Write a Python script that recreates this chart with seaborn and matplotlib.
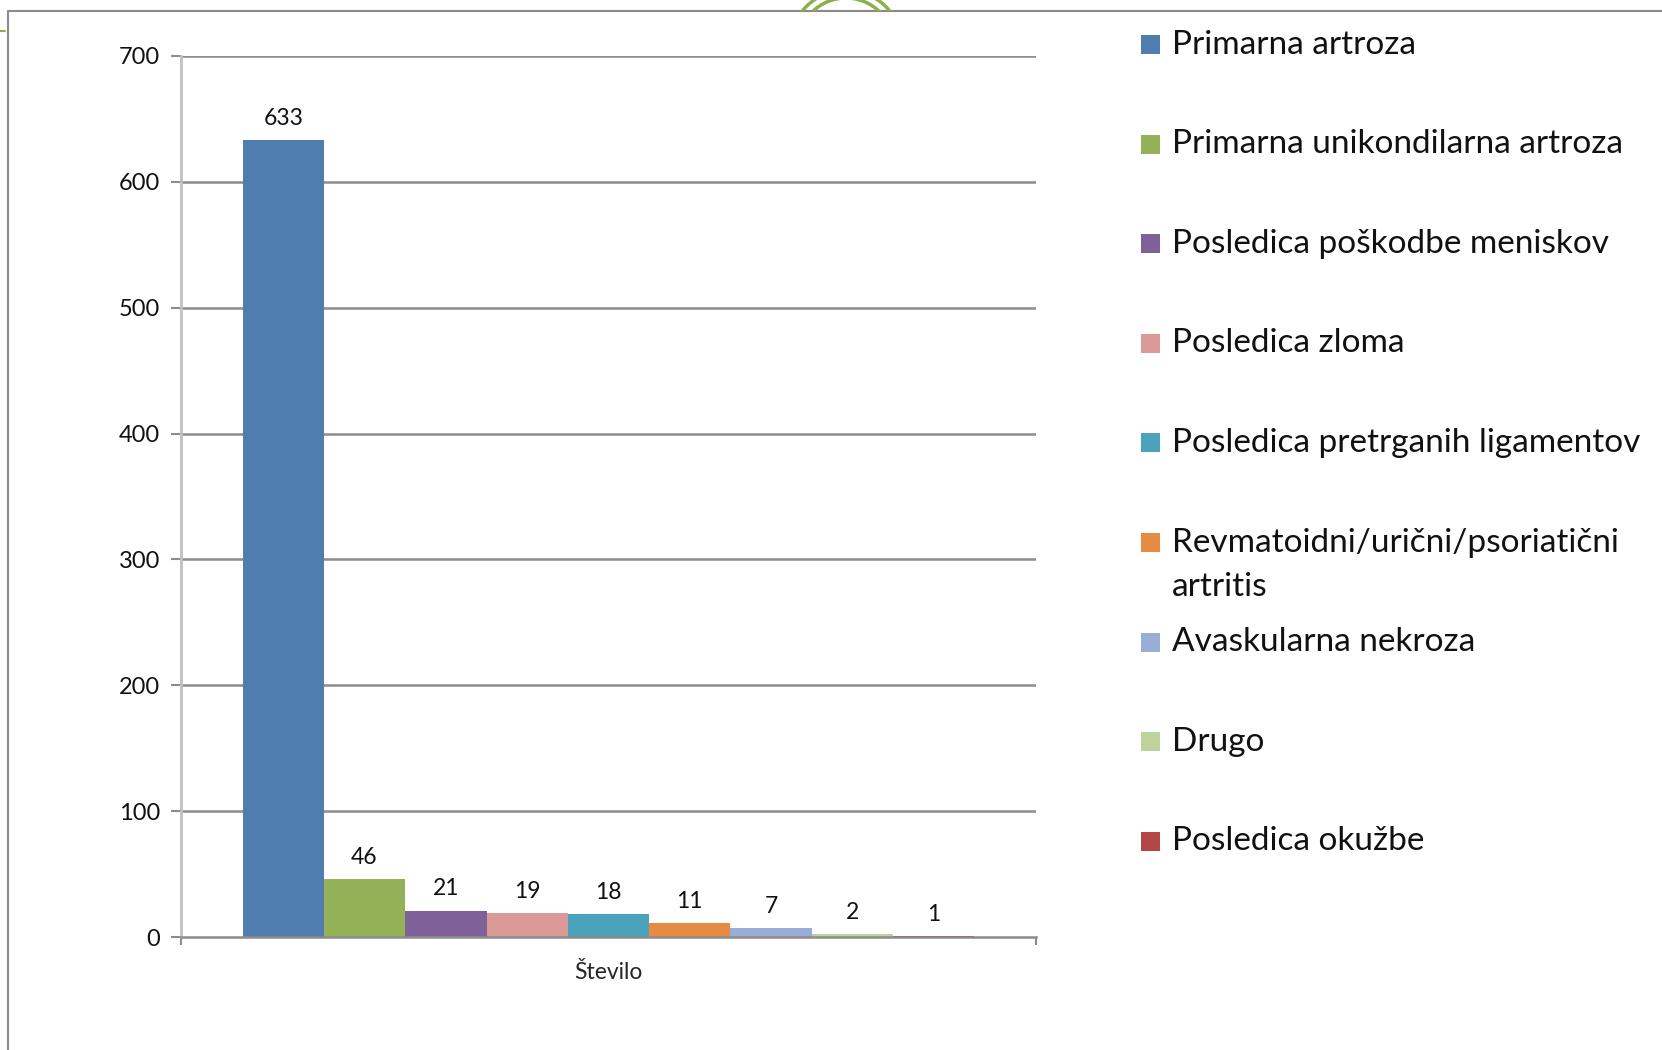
import matplotlib
matplotlib.use('Agg')
import matplotlib.pyplot as plt
import matplotlib.patches as mpatches
import seaborn as sns
import pandas as pd

# Data
categories = ['Primarna artroza',
              'Primarna unikondilarna artroza',
              'Posledica poškodbe meniskov',
              'Posledica zloma',
              'Posledica pretrganih ligamentov',
              'Revmatoidni/urični/psoriatični\nartritis',
              'Avaskularna nekroza',
              'Drugo',
              'Posledica okužbe']
values = [633, 46, 21, 19, 18, 11, 7, 2, 1]
colors = ['#4F7DB0', '#93B156', '#7E6199', '#DB9A98', '#4AA3BA',
          '#E88B42', '#98AED6', '#BED29C', '#B34747']
group_label = 'Število'
y_ticks = [0, 100, 200, 300, 400, 500, 600, 700]

sns.set_theme(style='white')
plt.rcParams['font.family'] = ['Lato', 'DejaVu Sans']

W, H = 1662, 1050
fig = plt.figure(figsize=(W / 100, H / 100), dpi=100)

# slide frame / decoration in pixel coordinates
bg = fig.add_axes([0, 0, 1, 1], zorder=-5)
bg.set_xlim(0, W)
bg.set_ylim(H, 0)
bg.axis('off')
bg.plot([7.5, W], [11, 11], color='#8a8a8a', lw=1.5)
bg.plot([7.5, 7.5], [11, H], color='#8a8a8a', lw=1.5)
bg.plot([0, 5], [31, 31], color='#8DAF4C', lw=1.5)

top = fig.add_axes([0, 1 - 10.5 / H, 1, 10.5 / H], zorder=-4)
top.set_xlim(0, W)
top.set_ylim(10.5, 0)
top.axis('off')
for r in (56, 48):
    top.add_patch(mpatches.Circle((846, 46), r, fill=False, ec='#8DAF4C', lw=2.5))

# main chart
ax = fig.add_axes([181 / W, 1 - 937 / H, (1036 - 181) / W, (937 - 56) / H])
df = pd.DataFrame({'group': group_label, 'category': categories, 'value': values})
sns.barplot(data=df, x='group', y='value', hue='category', hue_order=categories,
            palette=colors, saturation=1, width=0.856, linewidth=0,
            legend=False, ax=ax, zorder=3)

ax.set_xlim(-0.5, 0.5)
ax.set_ylim(0, 700)
ax.set_yticks(y_ticks)
for t in y_ticks[1:]:
    ax.axhline(t, color='#8c8c8c', lw=1.8, zorder=1)

for cont in ax.containers:
    ax.bar_label(cont, padding=8, fontsize=16.5, color='#111111')

ax.set_xlabel('')
ax.set_ylabel('')
ax.set_xticks([0])
ax.set_xticklabels([group_label], fontsize=16.5)
ax.tick_params(axis='x', length=0, pad=18)
ax.set_xticks([-0.5, 0.5], minor=True)
ax.tick_params(axis='x', which='minor', bottom=True, length=6, width=1.5, color='#8c8c8c')
ax.tick_params(axis='y', left=True, length=7, width=1.5, color='#8c8c8c',
               labelsize=17, pad=8, labelcolor='#111111')

for side in ('top', 'right'):
    ax.spines[side].set_visible(False)
ax.spines['left'].set_color('#c0c0c0')
ax.spines['left'].set_linewidth(2)
ax.spines['bottom'].set_color('#8c8c8c')
ax.spines['bottom'].set_linewidth(1.8)
ax.spines['bottom'].set_zorder(4)

# legend drawn to the right, one row per category
for i, (cat, col) in enumerate(zip(categories, colors)):
    yc = 44.5 + i * 99.6
    bg.add_patch(mpatches.Rectangle((1141, yc - 9.5), 19, 19, color=col, lw=0))
    for j, line in enumerate(cat.split('\n')):
        bg.text(1172, yc + j * 44.5, line, fontsize=24, va='center', ha='left',
                color='#111111')

fig.savefig('out.png', dpi=100)
